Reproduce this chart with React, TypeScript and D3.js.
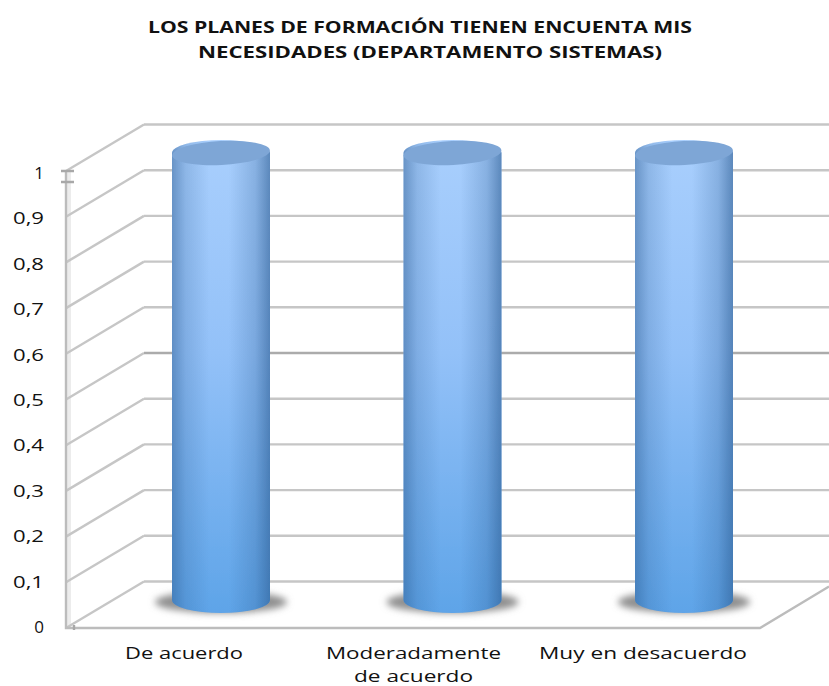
import React from "react";
import * as d3 from "d3";

const categories = ["De acuerdo", "Moderadamente|de acuerdo", "Muy en desacuerdo"];
const values = [1, 1, 1];
const ticks = [0, 0.1, 0.2, 0.3, 0.4, 0.5, 0.6, 0.7, 0.8, 0.9, 1];
const titleLines = ["LOS PLANES DE FORMACIÓN TIENEN ENCUENTA MIS", "NECESIDADES (DEPARTAMENTO SISTEMAS)"];

const W = 829, H = 686;
const depthX = 78, depthY = -46.5;
const frontLeft = 66, frontRight = 760;
const frontY = d3.scaleLinear().domain([0, 1]).range([628, 171]);
const backY = (v: number) => frontY(v) + depthY;
const labelY = d3.scaleLinear().domain([0, 1]).range([627, 173]);
const xBand = d3.scaleBand<string>().domain(categories).range([105.25, 799.75]);
const fmt = (v: number) => String(v).replace(".", ",");
const lineCol = "#c6c6c6";
const titleWidths = [544, 464];
const titleCenters = [420, 430];
const catCenters = [184, 413.5, 643];
const catWidths: Record<string, number> = { "De acuerdo": 118, "Moderadamente": 175, "de acuerdo": 119, "Muy en desacuerdo": 208 };

export default function App() {
  const rx = 49, ry = 13;
  const cylTop = 153;
  return (
    <svg width={W} height={H} style={{ position: "absolute", left: 0, top: 0, background: "#fff" }}>
      <defs>
        <linearGradient id="v" x1="0" y1="0" x2="0" y2="1">
          <stop offset="0" stopColor="#a9cffd" />
          <stop offset="0.45" stopColor="#93c1f8" />
          <stop offset="1" stopColor="#5ea4e8" />
        </linearGradient>
        <linearGradient id="h" x1="0" y1="0" x2="1" y2="0">
          <stop offset="0" stopColor="#2a5a90" stopOpacity="0.5" />
          <stop offset="0.14" stopColor="#2a5a90" stopOpacity="0.2" />
          <stop offset="0.38" stopColor="#2a5a90" stopOpacity="0" />
          <stop offset="0.58" stopColor="#2a5a90" stopOpacity="0" />
          <stop offset="0.85" stopColor="#2a5a90" stopOpacity="0.25" />
          <stop offset="1" stopColor="#2a5a90" stopOpacity="0.6" />
        </linearGradient>
        <filter id="soft" x="-5%" y="-5%" width="110%" height="110%"><feGaussianBlur stdDeviation="0.7" /></filter>
        <filter id="shadow" x="-20%" y="-60%" width="140%" height="220%"><feGaussianBlur stdDeviation="3.5" /></filter>
      </defs>
      <g fontFamily="'Open Sans', sans-serif" fontWeight={700} fontSize={16} textAnchor="middle" fill="#111">
        {titleLines.map((t, i) => (
          <text key={t} x={titleCenters[i]} y={33 + i * 25} textLength={titleWidths[i]} lengthAdjust="spacingAndGlyphs">{t}</text>
        ))}
      </g>
      <rect x={frontLeft} y={frontY(1)} width={5} height={frontY(0) - frontY(1)} fill="#ececec" />
      <g stroke={lineCol} strokeWidth={2.4} fill="none" filter="url(#soft)">
        {ticks.map(t => (
          <g key={t}>
            <path d={`M${frontLeft},${frontY(t)} L${frontLeft + depthX},${backY(t)}`} />
            <path d={`M${frontLeft + depthX},${backY(t)} H${W}`} stroke={t === 0.5 ? "#ababab" : lineCol} />
          </g>
        ))}
        <path d={`M${frontLeft},${frontY(1)} V${frontY(0)} H${frontRight} L${W},${backY(0) + 5}`} stroke="#bcbcbc" />
        <path d={`M61,${frontY(1)} H74 M61,${frontY(1) + 11} H74`} stroke="#a8a8a8" />
        <path d={`M${frontLeft + 8},${frontY(0) - 3} V${frontY(0) + 2}`} stroke="#a8a8a8" />
      </g>
      <g fontFamily="'Open Sans', sans-serif" fontSize={17} fill="#111" textAnchor="end">
        {ticks.map(t =>
          t === 0 || t === 1 ? (
            <text key={t} x={44} y={labelY(t) + 6}>{fmt(t)}</text>
          ) : (
            <text key={t} x={44} y={labelY(t) + 6} textLength={31} lengthAdjust="spacingAndGlyphs">{fmt(t)}</text>
          )
        )}
      </g>
      {categories.map((c, i) => {
        const cx = (xBand(c) as number) + xBand.bandwidth() / 2;
        const yT = cylTop + (457 - (frontY(0) - frontY(values[i])));
        const yB = 600;
        const body = `M${cx - rx},${yT} V${yB} A${rx},${ry} 0 0 0 ${cx + rx},${yB} V${yT} A${rx},${ry} 0 0 0 ${cx - rx},${yT} Z`;
        return (
          <g key={c}>
            <ellipse cx={cx} cy={yB + 2} rx={rx + 17} ry={ry - 2} fill="#8f8f8f" filter="url(#shadow)" />
            <g filter="url(#soft)">
              <path d={body} fill="url(#v)" />
              <path d={body} fill="url(#h)" />
              <ellipse cx={cx} cy={yT} rx={rx} ry={ry - 1} fill="#7ea6d6" transform={`rotate(-3 ${cx} ${yT})`} />
            </g>
          </g>
        );
      })}
      <g fontFamily="'Open Sans', sans-serif" fontSize={17} fill="#111" textAnchor="middle">
        {categories.map((c, i) =>
          c.split("|").map((l, k) => (
            <text key={l} x={catCenters[i]} y={659 + k * 23} textLength={catWidths[l]} lengthAdjust="spacingAndGlyphs">{l}</text>
          ))
        )}
      </g>
    </svg>
  );
}
